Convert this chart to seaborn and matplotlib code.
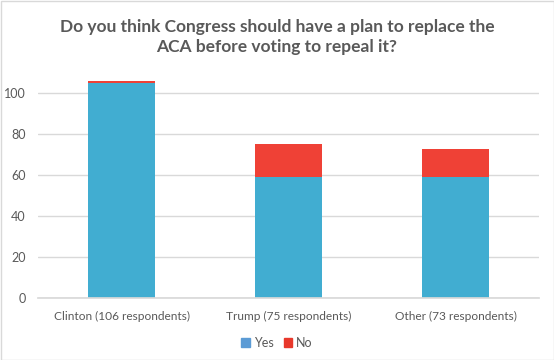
import matplotlib
matplotlib.use("Agg")
import matplotlib.pyplot as plt
import seaborn as sns
import pandas as pd
from matplotlib.patches import Patch

categories = ["Clinton (106 respondents)", "Trump (75 respondents)", "Other (73 respondents)"]
yes_values = [105, 59, 59]
no_values = [1, 16, 14]
y_ticks = [0, 20, 40, 60, 80, 100]

sns.set_theme(style="white")
plt.rcParams["font.family"] = ["Lato", "DejaVu Sans"]

df = pd.DataFrame({
    "cat": categories,
    "Yes": yes_values,
    "Total": [y + n for y, n in zip(yes_values, no_values)],
})

fig = plt.figure(figsize=(5.54, 3.6), dpi=100)
ax = fig.add_axes([38 / 554, 62 / 360, 501 / 554, 219 / 360])

blue = "#41ADD1"
red = "#EF4136"
sns.barplot(data=df, x="cat", y="Total", color=red, width=0.40, ax=ax,
            saturation=1, linewidth=0, zorder=3)
sns.barplot(data=df, x="cat", y="Yes", color=blue, width=0.40, ax=ax,
            saturation=1, linewidth=0, zorder=4)

ax.set_ylim(0, 107)
ax.set_xlim(-0.5, 2.5)
ax.set_yticks(y_ticks)
ax.set_yticklabels([str(t) for t in y_ticks], color="#595959", fontsize=9)
ax.tick_params(axis="x", colors="#595959", labelsize=8.6, length=0, pad=9)
ax.tick_params(axis="y", length=0, pad=9)
ax.set_xlabel("")
ax.set_ylabel("")
ax.grid(axis="y", color="#D9D9D9", linewidth=1, zorder=0)
for s in ["top", "right", "left"]:
    ax.spines[s].set_visible(False)
ax.spines["bottom"].set_color("#D9D9D9")
ax.spines["bottom"].set_zorder(5)

fig.text(0.5, 0.948, "Do you think Congress should have a plan to replace the\nACA before voting to repeal it?",
         ha="center", va="top", fontsize=12.5, fontweight="bold", color="#595959",
         linespacing=1.3)

handles = [Patch(color="#5B9BD5", label="Yes"), Patch(color="#E8382B", label="No")]
fig.legend(handles=handles, loc="center", bbox_to_anchor=(0.5, 17 / 360), ncol=2,
           frameon=False, fontsize=9, handlelength=0.7, handleheight=0.7,
           handletextpad=0.3, columnspacing=0.8, labelcolor="#595959")

border = plt.Rectangle((0.5 / 554, 0.5 / 360), 1 - 1 / 554, 1 - 1 / 360, transform=fig.transFigure,
                       fill=False, edgecolor="#D9D9D9", linewidth=1)
fig.patches.append(border)

fig.savefig("out.png", dpi=100)
